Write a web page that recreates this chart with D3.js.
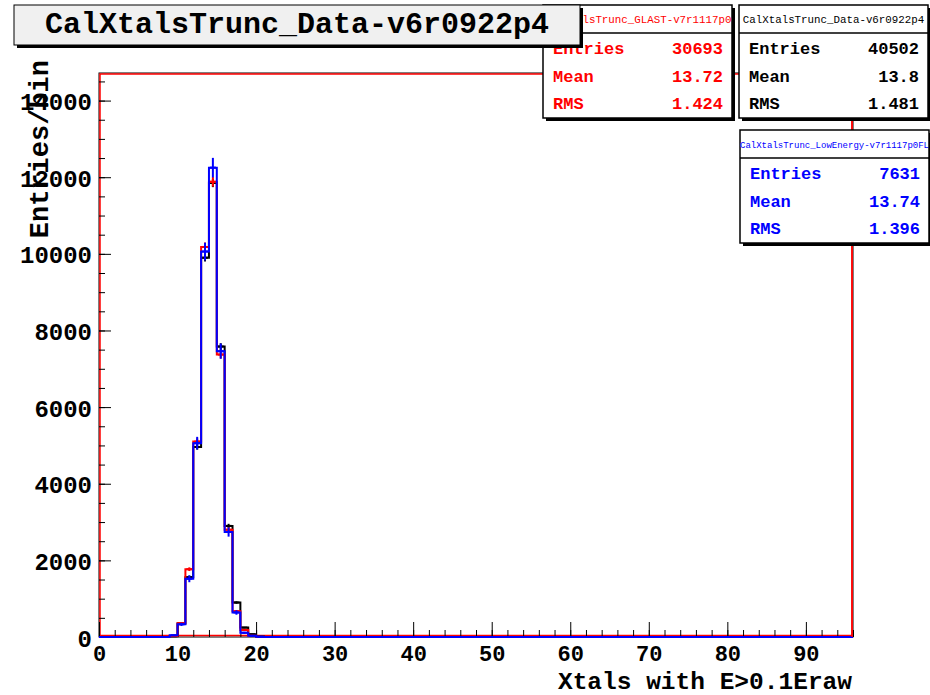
<!DOCTYPE html>
<html>
<head>
<meta charset="utf-8">
<script src="https://cdnjs.cloudflare.com/ajax/libs/d3/7.8.5/d3.min.js"></script>
<style>
  body { margin: 0; background: #fff; }
  text { font-family: "Liberation Mono", "DejaVu Sans Mono", monospace; }
</style>
</head>
<body>
<div id="vis"></div>
<script>

// bins are 1 unit wide, first filled bin starts at x = 9
const firstBin = 9;
const dataV6   = [20, 350, 1560, 4960, 9900, 11850, 7580, 2900, 900, 245, 70, 15];
const glastV7  = [25, 360, 1770, 5100, 10180, 11880, 7370, 2800, 670, 185, 30, 8];
const lowEnV7  = [45, 330, 1520, 5060, 10060, 12250, 7460, 2740, 640, 110, 30, 5];

const xMajor = [0, 10, 20, 30, 40, 50, 60, 70, 80, 90];
const yMajor = [0, 2000, 4000, 6000, 8000, 10000, 12000, 14000];

const series = [
  {name: "CalXtalsTrunc_Data-v6r0922p4", color: "#000000", values: dataV6,
   entries: "40502", mean: "13.8", rms: "1.481"},
  {name: "CalXtalsTrunc_GLAST-v7r1117p0", color: "#ff0000", values: glastV7,
   entries: "30693", mean: "13.72", rms: "1.424"},
  {name: "CalXtalsTrunc_LowEnergy-v7r1117p0FL", color: "#0000ff", values: lowEnV7,
   entries: "7631", mean: "13.74", rms: "1.396"}
];
const refEntries = 40502;

const W = 930, H = 695;
const svg = d3.select("#vis").append("svg")
    .attr("width", W).attr("height", H);

const x = d3.scaleLinear().domain([0, 96]).range([99, 853]);
const y = d3.scaleLinear().domain([0, 14720]).range([637, 73]);

// frame
svg.append("rect")
    .attr("x", x(0)).attr("y", y(14720))
    .attr("width", x(96) - x(0)).attr("height", y(0) - y(14720))
    .attr("fill", "#fff").attr("stroke", "#000").attr("stroke-width", 1);

// red frame overlay (drawn under the histograms)
svg.append("path")
    .attr("d", `M${x(0) + 1},${y(0) - 1.5} V${y(14720) + 1} H${x(96) - 1} V${y(0) - 1.5} Z`)
    .attr("fill", "none").attr("stroke", "#ff0000").attr("stroke-width", 1.5);

// axes: major + minor ticks, drawn inward
const font = "Liberation Mono, monospace";
function styleAxis(g) {
  g.select(".domain").remove();
  g.attr("font-family", font).attr("font-weight", "bold");
  g.selectAll("line").attr("stroke", "#000").attr("stroke-width", 1);
}
svg.append("g").attr("transform", `translate(0,${y(0)})`)
    .call(d3.axisBottom(x).tickValues(d3.range(0, 97, 2)).tickSizeInner(-7).tickFormat(""))
    .call(styleAxis);
svg.append("g").attr("transform", `translate(0,${y(0)})`)
    .call(d3.axisBottom(x).tickValues(xMajor).tickSizeInner(-15).tickPadding(8).tickFormat(d3.format("d")))
    .call(styleAxis)
    .call(g => g.selectAll("text").attr("font-size", 22).attr("fill", "#000"));
svg.append("g").attr("transform", `translate(${x(0)},0)`)
    .call(d3.axisLeft(y).tickValues(d3.range(0, 14720, 500)).tickSizeInner(-6).tickFormat(""))
    .call(styleAxis);
svg.append("g").attr("transform", `translate(${x(0)},0)`)
    .call(d3.axisLeft(y).tickValues(yMajor).tickSizeInner(-12).tickPadding(7).tickFormat(d3.format("d")))
    .call(styleAxis)
    .call(g => g.selectAll("text").attr("font-size", 24).attr("fill", "#000").attr("dy", "0.38em"));

// histograms
function fullBins(vals) {
  const arr = d3.range(96).map(() => 0);
  vals.forEach((v, i) => { arr[firstBin + i] = v; });
  return arr;
}
const step = d3.line().x(d => x(d[0])).y(d => y(d[1])).curve(d3.curveStepAfter);

series.forEach(s => {
  const bins = fullBins(s.values);
  const pts = bins.map((v, i) => [i, v]);
  pts.push([96, bins[95]]);
  const g = svg.append("g");
  g.append("path").attr("d", step(pts))
      .attr("fill", "none").attr("stroke", s.color).attr("stroke-width", 2);
  const norm = refEntries / +s.entries;
  const filled = bins.map((v, i) => ({i, v, e: Math.sqrt(v * norm)})).filter(d => d.v > 0);
  g.selectAll("line.ev").data(filled).join("line")
      .attr("x1", d => x(d.i + 0.5)).attr("x2", d => x(d.i + 0.5))
      .attr("y1", d => y(d.v - d.e)).attr("y2", d => y(d.v + d.e))
      .attr("stroke", s.color).attr("stroke-width", 2);
  g.selectAll("line.eh").data(filled).join("line")
      .attr("x1", d => x(d.i + 0.5) - 3).attr("x2", d => x(d.i + 0.5) + 3)
      .attr("y1", d => y(d.v)).attr("y2", d => y(d.v))
      .attr("stroke", s.color).attr("stroke-width", 2);
});

// right edge stays red on top
svg.append("line").attr("x1", x(96) - 1).attr("x2", x(96) - 1)
    .attr("y1", y(14720)).attr("y2", y(0))
    .attr("stroke", "#ff0000").attr("stroke-width", 1.5);

// axis titles
svg.append("text").attr("x", 852).attr("y", 689)
    .attr("text-anchor", "end").attr("font-size", 24.5).attr("font-weight", "bold")
    .text("Xtals with E>0.1Eraw");
svg.append("text").attr("transform", "translate(48,60) rotate(-90)")
    .attr("text-anchor", "end").attr("font-size", 27).attr("font-weight", "bold")
    .text("Entries/bin");

// stat boxes
function shadowBox(x0, y0, w, h) {
  svg.append("rect").attr("x", x0 + 3).attr("y", y0 + 3).attr("width", w).attr("height", h).attr("fill", "#000");
  svg.append("rect").attr("x", x0).attr("y", y0).attr("width", w).attr("height", h)
      .attr("fill", "#fff").attr("stroke", "#000").attr("stroke-width", 1.5);
}
const boxes = [
  {s: series[1], x0: 543, y0: 5, hs: 10.8},
  {s: series[0], x0: 739, y0: 5, hs: 10.8},
  {s: series[2], x0: 740, y0: 130, hs: 9}
];
boxes.forEach(b => {
  const w = 189, h = 113;
  shadowBox(b.x0, b.y0, w, h);
  svg.append("line").attr("x1", b.x0).attr("x2", b.x0 + w)
      .attr("y1", b.y0 + 28).attr("y2", b.y0 + 28).attr("stroke", "#000").attr("stroke-width", 1.5);
  svg.append("text").attr("x", b.x0 + w / 2).attr("y", b.y0 + 18)
      .attr("text-anchor", "middle").attr("font-size", b.hs)
      .attr("fill", b.s.color).text(b.s.name);
  const rows = [["Entries", b.s.entries], ["Mean", b.s.mean], ["RMS", b.s.rms]];
  rows.forEach((r, i) => {
    const by = b.y0 + 49 + i * 27.5;
    svg.append("text").attr("x", b.x0 + 10).attr("y", by)
        .attr("font-size", 17).attr("font-weight", "bold").attr("fill", b.s.color).text(r[0]);
    svg.append("text").attr("x", b.x0 + w - 9).attr("y", by)
        .attr("text-anchor", "end").attr("font-size", 17).attr("font-weight", "bold")
        .attr("fill", b.s.color).text(r[1]);
  });
});

// title box
svg.append("rect").attr("x", 17).attr("y", 8).attr("width", 566).attr("height", 40).attr("fill", "#000");
svg.append("rect").attr("x", 14).attr("y", 5).attr("width", 566).attr("height", 40)
    .attr("fill", "#f0f0f0").attr("stroke", "#000").attr("stroke-width", 1);
svg.append("text").attr("x", 297).attr("y", 33)
    .attr("text-anchor", "middle").attr("font-size", 30).attr("font-weight", "bold")
    .text("CalXtalsTrunc_Data-v6r0922p4");

</script>
</body>
</html>
